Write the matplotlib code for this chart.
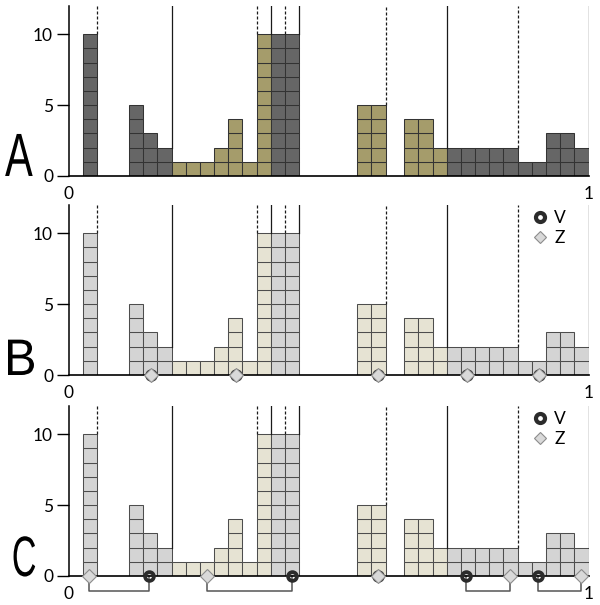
import matplotlib.pyplot as plt
import matplotlib.patheffects as pe
import numpy as np
from matplotlib.lines import Line2D
from matplotlib.transforms import Affine2D

# heights of the stacked unit cells, left to right
heights = [10, 5, 3, 2, 1, 1, 1, 2, 4, 1, 10, 10, 10, 5, 5, 4, 4, 2, 2, 2, 2, 2, 2, 1, 1, 3, 3, 2]
kind = ['d', 'd', 'd', 'd', 't', 't', 't', 't', 't', 't', 't', 'd', 'd', 't', 't',
        't', 't', 't', 'd', 'd', 'd', 'd', 'd', 'd', 'd', 'd', 'd', 'd']
group_start = [0.0263, 0.1154, 0.5544, 0.6448]
group_size = [1, 12, 2, 13]
bw = 0.02725

# bar index after which a split line is drawn (dashed / solid alternate)
cut_after = [0, 3, 9, 10, 11, 12, 14, 17, 22, 27]

v_b = [0.1577, 0.3212, 0.5942, 0.7654, 0.9038]
z_b = [0.1577, 0.3212, 0.5942, 0.7654, 0.9038]
v_c = [0.1538, 0.4288, 0.5942, 0.7635, 0.9019]
z_c = [0.0385, 0.2654, 0.5942, 0.8481, 0.9846]

letters = ['A', 'B', 'C']
letter_size = [44, 37, 41]
letter_squeeze = [0.68, 0.95, 0.6]
letter_x = [-0.123, -0.125, -0.11]


class Squeeze(pe.AbstractPathEffect):
    # narrows the glyphs horizontally (condensed look)
    def __init__(self, sx):
        super().__init__()
        self.sx = sx

    def draw_path(self, renderer, gc, tpath, affine, rgbFace=None):
        renderer.draw_path(gc, tpath, Affine2D().scale(self.sx, 1) + affine, rgbFace)


plt.rcParams['font.family'] = ['Lato', 'DejaVu Sans']

left = np.concatenate([s + bw*np.arange(n) for s, n in zip(group_start, group_size)])
heights = np.array(heights)

fig = plt.figure(figsize=(6.0, 6.05), dpi=100)
bottoms = [1 - 176/605, 1 - 375/605, 1 - 576/605]
ah = 12*14.17/605

palettes = [{'d': '#666666', 't': '#a59c6b'}, {'d': '#d4d4d4', 't': '#e6e3d3'}, {'d': '#d4d4d4', 't': '#e6e3d3'}]
edges = ['#333333', '#4d4d4d', '#4d4d4d']

for p in range(3):
    ax = fig.add_axes([69/600, bottoms[p], 520/600, ah])
    pal = palettes[p]
    cx = np.repeat(left, heights)
    cy = np.concatenate([np.arange(h) for h in heights])
    ck = np.repeat(kind, heights)
    ax.bar(cx, 1, width=bw, bottom=cy, align='edge', color=[pal[k] for k in ck],
           edgecolor=edges[p], linewidth=0.75, zorder=2)

    for j, i in enumerate(cut_after):
        xr = left[i] + bw
        b = heights[i]
        if i + 1 < len(left) and abs(left[i+1] - xr) < 1e-3:
            b = max(b, heights[i+1])
        ax.plot([xr, xr], [b, 12], color='#1a1a1a', lw=0.9,
                ls='-' if j % 2 else (0, (2.4, 1.6)), zorder=3)

    ax.set_xlim(0, 1)
    ax.set_ylim(0, 12)
    for s in ['top', 'right']:
        ax.spines[s].set_visible(False)
    ax.spines['left'].set_linewidth(1.1)
    ax.spines['bottom'].set_linewidth(1.2)
    ax.spines['bottom'].set_zorder(4)
    ax.set_yticks([0, 5, 10])
    ax.set_xticks([0, 1])
    ax.tick_params(axis='y', length=8.5, width=1.0, pad=3, labelsize=12.5)
    ax.tick_params(axis='x', length=0, pad=7, labelsize=12.5)
    ax.text(letter_x[p], 0, letters[p], ha='left', va='baseline', fontsize=letter_size[p],
            family=['Liberation Sans', 'DejaVu Sans'], transform=ax.get_yaxis_transform(),
            path_effects=[Squeeze(letter_squeeze[p])])

    if p > 0:
        v, z = (v_b, z_b) if p == 1 else (v_c, z_c)
        if p == 2:
            for a, b in zip(v, z):
                if a != b:
                    ax.plot([a, a, b, b], [0, -1.05, -1.05, 0], color='#555555', lw=1.1,
                            clip_on=False, zorder=4)
        ax.plot(v, np.zeros(len(v)), 'o', ms=6.3, mfc='none', mec='#2b2b2b', mew=2.7,
                clip_on=False, zorder=6)
        ax.plot(z, np.zeros(len(z)), 'D', ms=7.2, mfc='#d9d9d9', mec='#8c8c8c', mew=0.8,
                clip_on=False, zorder=7)
        hv = Line2D([], [], marker='o', ls='none', ms=6.5, mfc='none', mec='#2b2b2b', mew=3.0)
        hz = Line2D([], [], marker='D', ls='none', ms=6.3, mfc='#d9d9d9', mec='#8c8c8c', mew=0.8)
        ax.legend([hv, hz], ['V', 'Z'], loc='upper left', bbox_to_anchor=(0.873, 1.02),
                  frameon=False, borderpad=0, handlelength=1.0, handletextpad=0.3,
                  labelspacing=0.2, fontsize=12.5)

plt.savefig('out.png')
